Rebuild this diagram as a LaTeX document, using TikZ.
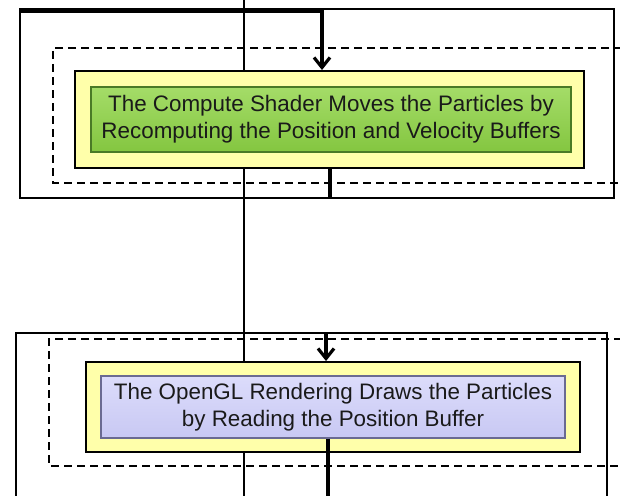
\documentclass[tikz,border=0pt]{standalone}
\usepackage{fontspec}
\setmainfont{Liberation Sans}
\usetikzlibrary{arrows.meta}
\definecolor{paleyellow}{HTML}{FFFFAA}
\definecolor{grntop}{HTML}{A4DC68}
\definecolor{grnbot}{HTML}{84C640}
\definecolor{grndark}{HTML}{4A7A26}
\definecolor{lavtop}{HTML}{DCDCFB}
\definecolor{lavbot}{HTML}{C8C8F3}
\definecolor{lavdark}{HTML}{6A6A92}
\definecolor{inktext}{HTML}{1A1A1A}
\begin{document}
\begin{tikzpicture}[x=1pt,y=-1pt,
  frame/.style={draw=black,line width=1.7pt},
  dashframe/.style={draw=black,line width=1.4pt,dash pattern=on 8pt off 5pt},
  holder/.style={rectangle,draw=black,line width=1.9pt,fill=paleyellow,inner sep=0pt},
  textbox/.style={rectangle,inner sep=0pt,align=center,text=inktext,
    font=\fontsize{22.4}{27}\selectfont},
  greenbox/.style={textbox,draw=grndark,line width=1.2pt,top color=grntop,bottom color=grnbot},
  lavbox/.style={textbox,draw=lavdark,line width=1.2pt,top color=lavtop,bottom color=lavbot},
  thinline/.style={line width=1.7pt},
  flow/.style={line width=3.2pt},
  arrowflow/.style={flow,-{Straight Barb[length=10pt,width=16pt]}}
]
\useasboundingbox (0,0) rectangle (620,495);
\clip (0,0) rectangle (620,495);
% thin through-line (behind boxes)
\coordinate (ttop) at (244,0);
\coordinate (tbot) at (244,497);
\draw[thinline] (ttop) -- (tbot);
% top section frames
\draw[frame] (20,9) rectangle (614,198);
\draw[dashframe] (622,48) -- (53,48) -- (53,183) -- (622,183);
% bottom section frames
\draw[frame] (16,498) -- (16,333) -- (607,333) -- (607,498);
\draw[dashframe] (622,339) -- (49,339) -- (49,466) -- (622,466);
% top boxes
\node[holder,minimum width=509pt,minimum height=97pt] (y1) at (329.5,119.5) {};
\node[greenbox,minimum width=480pt,minimum height=65pt] (g1) at (331,119.5)
  {The Compute Shader Moves the Particles by\\Recomputing the Position and Velocity Buffers};
% bottom boxes
\node[holder,minimum width=494pt,minimum height=90pt] (y2) at (333,407) {};
\node[lavbox,minimum width=464pt,minimum height=62pt] (l2) at (333,407)
  {The OpenGL Rendering Draws the Particles\\by Reading the Position Buffer};
% thick connectors
\coordinate (inA) at (20,11);
\coordinate (bendA) at (322,11);
\draw[arrowflow] (inA) -- (bendA) -- (bendA |- y1.north);
\coordinate (outA) at (330,198);
\draw[flow] (outA |- y1.south) -- (outA);
\coordinate (inB) at (326,333);
\draw[arrowflow] (inB) -- (inB |- y2.north);
\coordinate (outB) at (328,497);
\draw[flow] (outB |- l2.south) -- (outB);
\end{tikzpicture}
\end{document}
